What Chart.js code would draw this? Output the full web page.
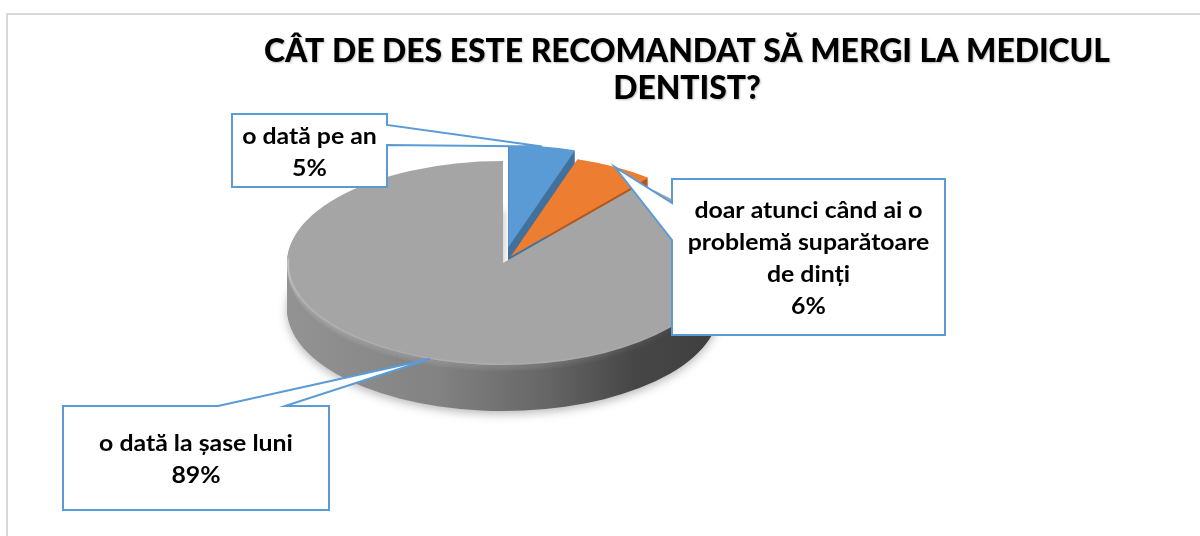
<!DOCTYPE html>
<html>
<head>
<meta charset="utf-8">
<script src="https://cdn.jsdelivr.net/npm/chart.js@4.4.0/dist/chart.umd.min.js"></script>
<style>
  html, body { margin: 0; padding: 0; background: #fff; }
  #wrap { width: 1200px; height: 536px; }
</style>
</head>
<body>
<div id="wrap"><canvas id="dentistChart" width="1200" height="536"></canvas></div>
<script>
// data
const categories = [
  "o dată pe an",
  "doar atunci când ai o problemă suparătoare de dinți",
  "o dată la șase luni",
];
const percentages = [5, 6, 89];
const labelLines = [
  ["o dată pe an"],
  ["doar atunci când ai o", "problemă suparătoare", "de dinți"],
  ["o dată la șase luni"],
];
const titleLines = ["CÂT DE DES ESTE RECOMANDAT SĂ MERGI LA MEDICUL", "DENTIST?"];

const topColors = ["#5B9BD5", "#ED7D31", "#A5A5A5"];
const sideColors = ["#41719C", "#B0581F", null];
const explode = [34, 16, 0];

// where the squashed pie sits on the page
const PIE = { cx: 503, cy: 263, rx: 216, ry: 102, depth: 46 };

// label boxes: [left, top, right, bottom], side the pointer leaves from, pointer base span
const boxes = [
  { rect: [232, 114, 387, 187], edge: "right", span: [125, 145], rf: 1.0 },
  { rect: [672, 179, 945, 335], edge: "left", span: [203, 240], rf: 1.0 },
  { rect: [63, 406, 329, 510], edge: "top", span: [218, 285], rf: 1.0 },
];

const FONT = "Lato, 'Open Sans', sans-serif";

function place(ctx, el, dy) {
  ctx.translate(PIE.cx, PIE.cy + dy);
  ctx.scale(1, PIE.ry / PIE.rx);
  ctx.translate(-el.x, -el.y);
}

function slicePath(ctx, el, r) {
  const off = el.options.offset || 0;
  const mid = (el.startAngle + el.endAngle) / 2;
  const x = el.x + Math.cos(mid) * off;
  const y = el.y + Math.sin(mid) * off;
  ctx.beginPath();
  ctx.moveTo(x, y);
  ctx.arc(x, y, r || el.outerRadius, el.startAngle, el.endAngle);
  ctx.closePath();
}

// screen point on a slice (mid angle, radius factor)
function project(el, rf) {
  const off = el.options.offset || 0;
  const mid = (el.startAngle + el.endAngle) / 2;
  const lx = Math.cos(mid) * (off + el.outerRadius * rf);
  const ly = Math.sin(mid) * (off + el.outerRadius * rf);
  return [PIE.cx + lx, PIE.cy + ly * (PIE.ry / PIE.rx)];
}

const pie3d = {
  id: "pie3d",
  beforeDatasetsDraw(chart) {
    const ctx = chart.ctx;
    const arcs = chart.getDatasetMeta(0).data;
    const order = [2, 1, 0];

    order.forEach((i) => {
      const el = arcs[i];
      for (let d = PIE.depth; d >= 1; d--) {
        ctx.save();
        place(ctx, el, d);
        if (sideColors[i]) {
          ctx.fillStyle = sideColors[i];
        } else {
          const g = ctx.createLinearGradient(el.x - el.outerRadius, 0, el.x + el.outerRadius, 0);
          g.addColorStop(0, "#939393");
          g.addColorStop(0.35, "#828282");
          g.addColorStop(0.6, "#666666");
          g.addColorStop(0.8, "#474747");
          g.addColorStop(1, "#3e3e3e");
          ctx.fillStyle = g;
        }
        if (d === PIE.depth && i === 2) {
          ctx.shadowColor = "rgba(0,0,0,0.28)";
          ctx.shadowBlur = 10;
          ctx.shadowOffsetY = 3;
        }
        slicePath(ctx, el);
        ctx.fill();
        ctx.restore();
      }
    });

    order.forEach((i) => {
      const el = arcs[i];
      ctx.save();
      place(ctx, el, 0);
      slicePath(ctx, el);
      ctx.fillStyle = el.options.backgroundColor;
      ctx.fill();
      ctx.restore();
    });

    // soft bevel along the front rim
    const gr = arcs[2];
    for (let k = 0; k < 6; k++) {
      ctx.save();
      place(ctx, gr, k * 1.2);
      ctx.beginPath();
      ctx.arc(gr.x, gr.y, gr.outerRadius - 1, Math.PI * 0.2, Math.PI * 1.02);
      ctx.restore();
      ctx.save();
      const band = ctx.createLinearGradient(PIE.cx - PIE.rx, 0, PIE.cx + PIE.rx, 0);
      const a = 0.10 - k * 0.014;
      band.addColorStop(0, "rgba(255,255,255," + a + ")");
      band.addColorStop(0.55, "rgba(255,255,255," + a * 0.8 + ")");
      band.addColorStop(1, "rgba(255,255,255,0)");
      ctx.strokeStyle = band;
      ctx.lineWidth = 2;
      ctx.stroke();
      ctx.restore();
    }

    return false;
  },
};

const decorations = {
  id: "decorations",
  afterDraw(chart) {
    const ctx = chart.ctx;
    const arcs = chart.getDatasetMeta(0).data;

    // outer frame
    ctx.save();
    ctx.strokeStyle = "#d9d9d9";
    ctx.lineWidth = 2;
    ctx.strokeRect(7, 14, 1220, 560);
    ctx.restore();

    // title, narrowed to the width of the original
    ctx.save();
    ctx.fillStyle = "#000";
    ctx.font = "900 32px " + FONT;
    ctx.textAlign = "center";
    ctx.textBaseline = "alphabetic";
    const w = ctx.measureText(titleLines[0]).width;
    const sx = 846 / w;
    ctx.translate(687, 0);
    ctx.scale(sx, 1);
    ctx.shadowColor = "rgba(0,0,0,0.25)";
    ctx.shadowBlur = 2;
    ctx.shadowOffsetX = 1;
    ctx.shadowOffsetY = 1;
    ctx.fillText(titleLines[0], 0, 62);
    ctx.fillText(titleLines[1], 0, 99);
    ctx.restore();

    // callouts
    boxes.forEach((b, i) => {
      const [l, t, r, bt] = b.rect;
      const tip = project(arcs[i], b.rf);
      ctx.save();
      ctx.beginPath();
      if (b.edge === "right") {
        ctx.moveTo(l, t);
        ctx.lineTo(r, t);
        ctx.lineTo(r, b.span[0]);
        ctx.lineTo(tip[0], tip[1]);
        ctx.lineTo(r, b.span[1]);
        ctx.lineTo(r, bt);
        ctx.lineTo(l, bt);
      } else if (b.edge === "left") {
        ctx.moveTo(l, t);
        ctx.lineTo(r, t);
        ctx.lineTo(r, bt);
        ctx.lineTo(l, bt);
        ctx.lineTo(l, b.span[1]);
        ctx.lineTo(tip[0], tip[1]);
        ctx.lineTo(l, b.span[0]);
      } else {
        ctx.moveTo(l, t);
        ctx.lineTo(b.span[0], t);
        ctx.lineTo(tip[0], tip[1]);
        ctx.lineTo(b.span[1], t);
        ctx.lineTo(r, t);
        ctx.lineTo(r, bt);
        ctx.lineTo(l, bt);
      }
      ctx.closePath();
      ctx.fillStyle = "#fff";
      ctx.fill();
      ctx.strokeStyle = "#5B9BD5";
      ctx.lineWidth = 2;
      ctx.stroke();

      const lines = labelLines[i].concat([percentages[i] + "%"]);
      const lh = 32;
      const cx = (l + r) / 2;
      const cy = (t + bt) / 2 + 2;
      ctx.fillStyle = "#000";
      ctx.font = "bold 23px " + FONT;
      ctx.textAlign = "center";
      ctx.textBaseline = "middle";
      ctx.translate(cx, 0);
      ctx.scale(1.08, 1);
      lines.forEach((s, j) => {
        ctx.fillText(s, 0, cy + (j - (lines.length - 1) / 2) * lh);
      });
      ctx.restore();
    });
  },
};

new Chart(document.getElementById("dentistChart"), {
  type: "pie",
  data: {
    labels: categories,
    datasets: [
      {
        data: percentages,
        backgroundColor: topColors,
        borderWidth: 0,
        offset: explode,
        radius: PIE.rx,
      },
    ],
  },
  options: {
    responsive: false,
    animation: false,
    events: [],
    plugins: {
      legend: { display: false },
      tooltip: { enabled: false },
      title: { display: false },
    },
  },
  plugins: [pie3d, decorations],
});
</script>
</body>
</html>
